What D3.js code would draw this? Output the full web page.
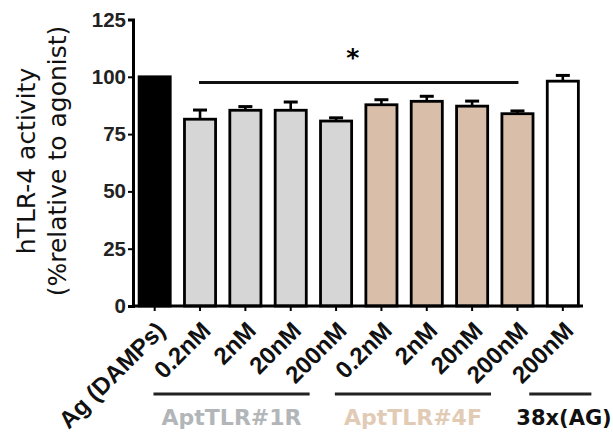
<!DOCTYPE html>
<html>
<head>
<meta charset="utf-8">
<script src="https://cdn.jsdelivr.net/npm/d3@7"></script>
<style>
  body { margin: 0; background: #fff; }
  svg { display: block; font-family: "DejaVu Sans", sans-serif; }
</style>
</head>
<body>
<svg id="chart" width="613" height="434"></svg>
<script>
// ----- DATA -----
var labels = ["Ag (DAMPs)", "0.2nM", "2nM", "20nM", "200nM", "0.2nM", "2nM", "20nM", "200nM", "200nM"];
var values = [100, 81.5, 85.4, 85.4, 80.7, 87.8, 89.3, 87.2, 83.9, 98.1];
var errors = [0, 4.0, 1.6, 3.6, 1.4, 2.2, 2.2, 2.2, 1.2, 2.5];
var groups = ["ctrl", "r1", "r1", "r1", "r1", "f4", "f4", "f4", "f4", "ag"];
var yTicks = [0, 25, 50, 75, 100, 125];
var groupNames = [
  { name: "AptTLR#1R", from: 1, to: 4, color: "#b3b6b9" },
  { name: "AptTLR#4F", from: 5, to: 8, color: "#e2cbb5" },
  { name: "38x(AG)", from: 9, to: 9, color: "#111" }
];

var fills = { ctrl: "#000", r1: "#d6d6d6", f4: "#d9bfa9", ag: "#fff" };

var svg = d3.select("#chart");
var x0 = 133, x1 = 583, yTop = 19.5, yBot = 306;

var x = d3.scaleBand()
  .domain(d3.range(labels.length))
  .range([x0 + 1.5, x1])
  .paddingInner(0.27)
  .paddingOuter(0.08);

var y = d3.scaleLinear().domain([0, 125]).range([yBot, yTop]);

var idx = d3.range(values.length);
function cx(i) { return x(i) + x.bandwidth() / 2; }

// bars
svg.selectAll("rect.bar")
  .data(idx)
  .enter().append("rect")
  .attr("class", "bar")
  .attr("x", function(i) { return x(i) + 1; })
  .attr("y", function(i) { return y(values[i]); })
  .attr("width", x.bandwidth() - 2)
  .attr("height", function(i) { return yBot - y(values[i]); })
  .style("fill", function(i) { return fills[groups[i]]; })
  .style("stroke", "#000")
  .style("stroke-width", 2.8);

// error bars (upper only)
var err = svg.selectAll("g.err")
  .data(idx.filter(function(i) { return errors[i] > 0; }))
  .enter().append("g")
  .attr("class", "err");

err.append("line")
  .attr("x1", cx).attr("x2", cx)
  .attr("y1", function(i) { return y(values[i]); })
  .attr("y2", function(i) { return y(values[i] + errors[i]); })
  .style("stroke", "#000").style("stroke-width", 2.6);

err.append("line")
  .attr("x1", function(i) { return cx(i) - 7; })
  .attr("x2", function(i) { return cx(i) + 7; })
  .attr("y1", function(i) { return y(values[i] + errors[i]); })
  .attr("y2", function(i) { return y(values[i] + errors[i]); })
  .style("stroke", "#000").style("stroke-width", 3);

// y axis
var yAxis = svg.append("g")
  .attr("transform", "translate(" + x0 + ",0)")
  .call(d3.axisLeft(y).tickValues(yTicks).tickSize(5).tickPadding(2));
yAxis.select(".domain").style("stroke-width", 3);
yAxis.selectAll(".tick line").style("stroke-width", 2);
yAxis.selectAll("text")
  .style("font-size", "20.5px")
  .style("font-weight", "bold")
  .style("fill", "#222");

// x axis
var xAxis = svg.append("g")
  .attr("transform", "translate(0," + yBot + ")")
  .call(d3.axisBottom(x).tickFormat(function(i) { return labels[i]; }).tickSize(5).tickSizeOuter(0));
xAxis.select(".domain")
  .attr("d", "M" + x0 + ",0H" + x1)
  .style("stroke-width", 3);
xAxis.selectAll(".tick line").style("stroke-width", 2);
xAxis.selectAll("text")
  .attr("x", null).attr("y", null).attr("dy", null)
  .attr("transform", "translate(12,26) rotate(-45)")
  .style("text-anchor", "end")
  .style("font-size", "24px")
  .style("font-weight", "bold")
  .style("fill", "#111");

// y title
var yTitle = svg.append("g").attr("transform", "translate(35,161) rotate(-90)");
yTitle.append("text")
  .attr("text-anchor", "middle")
  .style("font-size", "25px")
  .style("fill", "#111")
  .text("hTLR-4 activity");
yTitle.append("text")
  .attr("y", 31)
  .attr("text-anchor", "middle")
  .style("font-size", "25px")
  .style("fill", "#111")
  .text("(%relative to agonist)");

// significance
svg.append("line")
  .attr("x1", cx(1) - 1)
  .attr("x2", cx(8) + 1)
  .attr("y1", 82.5).attr("y2", 82.5)
  .style("stroke", "#111").style("stroke-width", 2.8);
svg.append("text")
  .attr("x", (cx(1) + cx(8)) / 2 - 6)
  .attr("y", 66)
  .attr("text-anchor", "middle")
  .style("font-size", "25px")
  .style("font-weight", "bold")
  .text("*");

// group brackets
groupNames.forEach(function(g) {
  var single = g.from === g.to;
  var gx1 = single ? x(g.from) - 17 : x(g.from) - 30;
  var gx2 = single ? x(g.to) + x.bandwidth() + 12 : x(g.to) + x.bandwidth() - 43;
  svg.append("line")
    .attr("x1", gx1).attr("x2", gx2)
    .attr("y1", 394).attr("y2", 394)
    .style("stroke", "#222").style("stroke-width", 2.8);
  svg.append("text")
    .attr("x", single ? gx1 - 13 : (gx1 + gx2) / 2)
    .attr("y", 425)
    .attr("text-anchor", single ? "start" : "middle")
    .style("font-size", single ? "21px" : "22px")
    .style("font-weight", "bold")
    .style("fill", g.color)
    .text(g.name);
});
</script>
</body>
</html>
